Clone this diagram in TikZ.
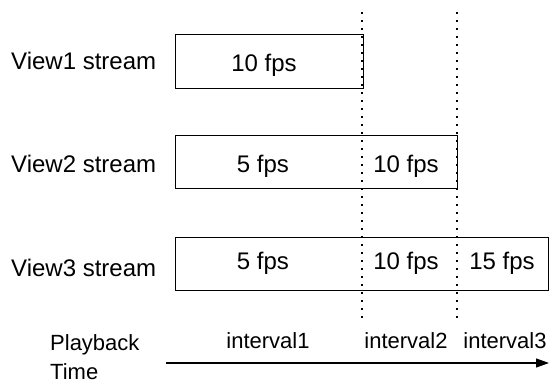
\documentclass[tikz,border=0pt]{standalone}
\usepackage{fontspec}
\setmainfont{Liberation Sans}
\usetikzlibrary{arrows.meta}
\begin{document}
\begin{tikzpicture}[x=1pt,y=-1pt,
  streambox/.style={draw, line width=1.3pt, rectangle, inner sep=0pt, anchor=north west},
  bigtxt/.style={inner sep=0pt, font=\fontsize{24}{28}\selectfont},
  smalltxt/.style={inner sep=0pt, font=\fontsize{22}{26}\selectfont},
  divider/.style={line width=1.1pt, dash pattern=on 2.5pt off 5.5pt},
  timeline/.style={line width=1.2pt, -{Triangle[length=13pt,width=9pt]}}]
\useasboundingbox (0,0) rectangle (550,385);
% boxes
\node[streambox, minimum width=188pt, minimum height=54pt] (b1) at (175,34) {};
\node[streambox, minimum width=282pt, minimum height=53pt] (b2) at (175,135) {};
\node[streambox, minimum width=373pt, minimum height=53pt] (b3) at (175,237) {};
% dividers
\coordinate (d1t) at (362,12);
\coordinate (d1b) at (362,318);
\coordinate (d2t) at (457,12);
\coordinate (d2b) at (457,318);
\draw[divider] (d1t) -- (d1b);
\draw[divider] (d2t) -- (d2b);
% row labels
\node[bigtxt, anchor=base west] (v1) at (11,70) {View1 stream};
\node[bigtxt, anchor=base west] (v2) at (11,173) {View2 stream};
\node[bigtxt, anchor=base west] (v3) at (11,277) {View3 stream};
% fps labels
\node[bigtxt, anchor=base] (f11) at (264,72) {10 fps};
\node[bigtxt, anchor=base] (f21) at (263,173) {5 fps};
\node[bigtxt, anchor=base] (f22) at (406,173) {10 fps};
\node[bigtxt, anchor=base] (f31) at (263,270) {5 fps};
\node[bigtxt, anchor=base] (f32) at (406,270) {10 fps};
\node[bigtxt, anchor=base] (f33) at (502,270) {15 fps};
% time axis
\node[smalltxt, anchor=base west] (pb) at (50,351) {Playback};
\node[smalltxt, anchor=base west] (tm) at (50,380) {Time};
\node[smalltxt, anchor=base] (i1) at (268,349) {interval1};
\node[smalltxt, anchor=base] (i2) at (406,349) {interval2};
\node[smalltxt, anchor=base] (i3) at (505,349) {interval3};
\coordinate (a0) at (166,363);
\coordinate (a1) at (549,363);
\draw[timeline] (a0) -- (a1);
\end{tikzpicture}
\end{document}
